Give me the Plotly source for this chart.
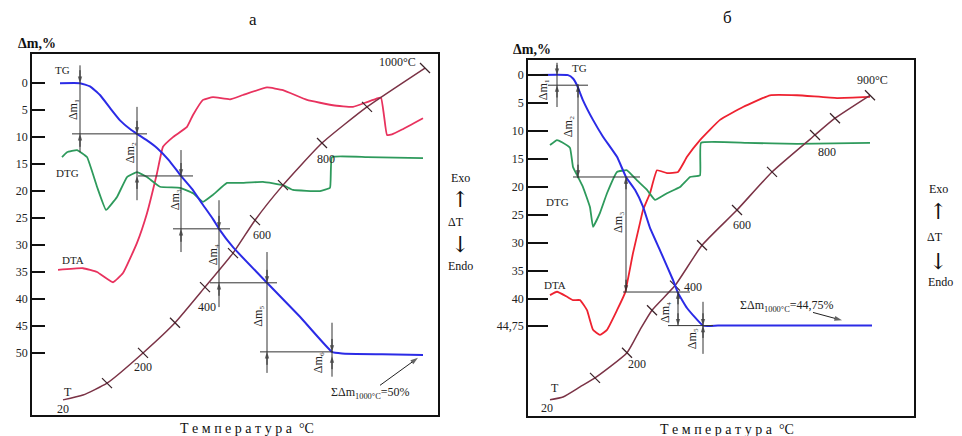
import plotly.graph_objects as go

W, H = 962, 436
FONT = "Liberation Serif"

# ---------------- Panel а (x = time, arbitrary units; y = Δm, %) ----------------
TG_a_t = [28, 48, 58, 68, 78, 88, 98, 105, 115, 125, 137, 149, 160, 170, 181, 187, 201, 235, 268, 300, 310, 350, 391]
TG_a = [0, 0, 0.6, 2.2, 4.6, 6.9, 8.5, 9.4, 10.6, 12, 14.3, 17.2, 19.6, 22.3, 25.2, 27, 30.4, 37, 43.3, 49.8, 50.1, 50.25, 50.4]

DTA_a_t = [26, 51, 65, 81, 91, 105, 115, 125, 131, 141, 155, 161, 171, 181, 198, 211, 235, 251, 275, 301, 321, 335, 344, 349, 352, 355, 360, 370, 391]
DTA_a = [34.6, 34.3, 35, 36.9, 35.2, 29.6, 24.1, 16.7, 11.8, 10, 8.1, 5.9, 3.1, 2.6, 3, 2.2, 0.8, 1.3, 3.1, 4.1, 4.4, 3.5, 2.9, 2.7, 6.0, 9.6, 9.5, 8.6, 6.5]

DTG_a_t = [30, 35, 45, 55, 65, 74, 85, 95, 105, 115, 128, 148, 161, 171, 181, 195, 208, 231, 251, 261, 288, 298, 300, 335, 391]
DTG_a = [13.7, 12.8, 12.4, 13.7, 19.2, 23.5, 21.1, 17.4, 16.5, 17.4, 19.2, 19.4, 20.4, 22, 20.7, 18.5, 18.5, 18.3, 18.9, 19.8, 20, 19.4, 13.7, 13.7, 13.9]

T_a_t = [31, 51, 75, 111, 143, 173, 201, 223, 251, 290, 335, 393]
T_a = [58.7, 57.8, 55.6, 50, 44.4, 37.8, 31.5, 25.4, 18.9, 11.1, 4.4, -2.8]
T_a_tick_t = [75, 111, 143, 173, 201, 223, 251, 290, 335, 393]
T_a_tick = [55.6, 50, 44.4, 37.8, 31.5, 25.4, 18.9, 11.1, 4.4, -2.8]

# Δm steps: (time, top level, bottom level, line top, line bottom, arrows inward?)
DM_a = [(48, 0, 9.4, -3.3, 12.8, True),
        (105, 9.4, 17.2, 4.4, 21.7, True),
        (149, 17.2, 27, 12.4, 31.3, True),
        (187, 27, 37, 21.7, 41.5, True),
        (235, 37, 49.8, 31.3, 53.7, True),
        (300, 49.8, 50.6, 44.4, 54.4, True)]
LEVELS_a = [(9.4, 40, 115), (17.2, 106, 161), (27, 141, 198), (37, 178, 245), (49.8, 228, 301)]
DM_a_lab = [(41, 5), (98, 13), (143, 21.7), (181, 31.9), (226, 43.3), (286, 51.9)]

# ---------------- Panel б ----------------
TG_b_t = [2, 40, 45, 49, 55, 65, 75, 89, 98, 107, 115, 122, 132, 145, 150, 159, 175, 190, 260, 344]
TG_b = [0, 0, 0.6, 1.8, 4.5, 8, 11, 14.6, 18.2, 20.5, 23.5, 27.3, 31.3, 36.6, 38.9, 41.6, 44.75, 44.75, 44.75, 44.75]

DTA_b_t = [22, 29, 39, 45, 52, 59, 65, 72, 79, 89, 97, 105, 112, 115, 122, 129, 139, 150, 159, 172, 192, 215, 242, 269, 309, 342]
DTA_b = [39.3, 38.7, 39.6, 40.2, 40.2, 42, 45.5, 46.4, 45.5, 42, 38.9, 31.8, 26.4, 24.1, 21.1, 17, 17.5, 17.3, 14.6, 11.6, 8, 5.7, 3.6, 3.6, 4.1, 3.9]

DTG_b_t = [22, 29, 34, 42, 45, 50, 55, 62, 65, 72, 79, 89, 99, 109, 119, 127, 139, 152, 162, 172, 173, 219, 269, 342]
DTG_b = [12.5, 11.6, 12, 13, 16.4, 18.2, 20, 23.6, 27.1, 24.6, 21.1, 17.3, 17, 18.8, 20.5, 22.3, 21.1, 20, 18.2, 17.9, 12.1, 12.1, 12.3, 12.1]

T_b_t = [22, 35, 52, 67, 99, 112, 124, 147, 174, 209, 244, 287, 307, 342]
T_b = [58, 57.5, 55.7, 54.1, 49.6, 45.5, 42, 37.6, 30.4, 24.1, 17.3, 10.7, 7.7, 3.6]
T_b_tick_t = [67, 99, 124, 147, 174, 209, 244, 287, 307, 342]
T_b_tick = [54.1, 49.6, 42, 37.6, 30.4, 24.1, 17.3, 10.7, 7.7, 3.6]

DM_b = [(29, 0, 1.8, -1.8, 5.7, True),
        (50, 1.8, 18.2, 1.6, 18.4, False),
        (98, 18.2, 38.75, 18.2, 38.75, False),
        (150, 38.75, 44.75, 38.75, 44.75, False),
        (175, 44.75, 44.75, 40.5, 49.8, True)]
LEVELS_b = [(1.8, 20, 60), (18.2, 45, 112), (38.75, 95, 162), (44.75, 140, 185)]
DM_b_lab = [(15, 2.7), (40, 9.3), (90, 26.4), (137, 42.5), (164, 47.2)]

TICKS_a = [0, 5, 10, 15, 20, 25, 30, 35, 40, 45, 50]
TICKS_b = [0, 5, 10, 15, 20, 25, 30, 35, 40, 44.75]
TICKS_b_text = ["0", "5", "10", "15", "20", "25", "30", "35", "40", "44,75"]

SUBS = ["₁", "₂", "₃", "₄", "₅", "₆"]

BLUE = "#2b2be6"
RED_A = "#e8325e"
RED_B = "#ee2230"
GREEN = "#2e9a5c"
MAROON = "#7b3346"

fig = go.Figure()

def add_panel(xa, ya, tg_t, tg, dta_t, dta, dtg_t, dtg, t_t, t_y, tk_t, tk_y, red):
    fig.add_trace(go.Scatter(x=dta_t, y=dta, mode="lines", line=dict(color=red, width=1.8, shape="spline", smoothing=0.35),
                             xaxis=xa, yaxis=ya, hoverinfo="skip"))
    fig.add_trace(go.Scatter(x=dtg_t, y=dtg, mode="lines", line=dict(color=GREEN, width=1.8, shape="spline", smoothing=0.3),
                             xaxis=xa, yaxis=ya, hoverinfo="skip"))
    fig.add_trace(go.Scatter(x=t_t, y=t_y, mode="lines", line=dict(color=MAROON, width=1.5, shape="spline", smoothing=0.5),
                             xaxis=xa, yaxis=ya, hoverinfo="skip"))
    fig.add_trace(go.Scatter(x=tk_t, y=tk_y, mode="markers",
                             marker=dict(symbol="line-nw", size=10, line=dict(color="#3a2228", width=1.2)),
                             xaxis=xa, yaxis=ya, hoverinfo="skip"))
    fig.add_trace(go.Scatter(x=tg_t, y=tg, mode="lines", line=dict(color=BLUE, width=2, shape="spline", smoothing=0.35),
                             xaxis=xa, yaxis=ya, hoverinfo="skip"))

add_panel("x", "y", TG_a_t, TG_a, DTA_a_t, DTA_a, DTG_a_t, DTG_a, T_a_t, T_a, T_a_tick_t, T_a_tick, RED_A)
add_panel("x2", "y2", TG_b_t, TG_b, DTA_b_t, DTA_b, DTG_b_t, DTG_b, T_b_t, T_b, T_b_tick_t, T_b_tick, RED_B)

shapes = []
ann = []

def arrow(xa, ya, x0, y0, x1, y1, size=8, width=1):
    # line from tail (x0, y0) to tip (x1, y1) with an arrowhead at the tip
    fig.add_trace(go.Scatter(x=[x0, x1], y=[y0, y1], mode="lines+markers", xaxis=xa, yaxis=ya,
                             line=dict(color="#222", width=width),
                             marker=dict(symbol="arrow", angleref="previous", size=[0, size], color="#222",
                                         line=dict(width=0)),
                             hoverinfo="skip"))

def dims(xa, ya, dm, levels, labels, ln):
    for (y, t0, t1) in levels:
        shapes.append(dict(type="line", xref=xa, yref=ya, x0=t0, x1=t1, y0=y, y1=y, line=dict(color="#333", width=1)))
    for i, (t, yt, yb, lt, lb, inward) in enumerate(dm):
        shapes.append(dict(type="line", xref=xa, yref=ya, x0=t, x1=t, y0=lt, y1=lb, line=dict(color="#333", width=1)))
        d = ln if inward else -ln
        for tip, tail in ((yt, yt - d), (yb, yb + d)):
            arrow(xa, ya, t, tail, t, tip, size=7)
        lx, ly = labels[i]
        ann.append(dict(x=lx, y=ly, xref=xa, yref=ya, text="Δm" + SUBS[i], showarrow=False,
                        textangle=-90, font=dict(family=FONT, size=12, color="#222")))

dims("x", "y", DM_a, LEVELS_a, DM_a_lab, 2.4)
dims("x2", "y2", DM_b, LEVELS_b, DM_b_lab, 2.2)

def txt(xr, yr, x, y, s, size=11):
    ann.append(dict(x=x, y=y, xref=xr, yref=yr, text=s, showarrow=False,
                    font=dict(family=FONT, size=size, color="#222")))

# panel а labels
txt("x", "y", 30, -2.4, "TG")
txt("x", "y", 35, 16.7, "DTG")
txt("x", "y", 41, 32.8, "DTA")
txt("x", "y", 36, 57.2, "T", 12)
txt("x", "y", 31, 60.3, "20", 12)
txt("x", "y", 111, 52.6, "200", 12)
txt("x", "y", 175, 41.5, "400", 12)
txt("x", "y", 230, 28.1, "600", 12)
txt("x", "y", 294, 14.1, "800", 12)
txt("x", "y", 365, -3.9, "1000°C", 12)
txt("x", "y", 338, 57.4, "ΣΔm<sub>1000°C</sub>=50%", 12)
arrow("x", "y", 348, 56.0, 386, 50.9, size=8)

# panel б labels
txt("x2", "y2", 51, -1.25, "TG")
txt("x2", "y2", 29, 22.7, "DTG")
txt("x2", "y2", 27, 37.5, "DTA")
txt("x2", "y2", 27, 55.9, "T", 12)
txt("x2", "y2", 19, 59.4, "20", 12)
txt("x2", "y2", 109, 51.6, "200", 12)
txt("x2", "y2", 165, 37.9, "400", 12)
txt("x2", "y2", 214, 26.8, "600", 12)
txt("x2", "y2", 299, 13.75, "800", 12)
txt("x2", "y2", 344, 0.9, "900°C", 12)
txt("x2", "y2", 259, 41.2, "ΣΔm<sub>1000°C</sub>=44,75%", 12)
arrow("x2", "y2", 285, 42.4, 314, 43.8, size=8)

def ptxt(px, py, s, size=12, family=FONT):
    ann.append(dict(x=px / W, y=1 - py / H, xref="paper", yref="paper", text=s, showarrow=False,
                    xanchor="center", yanchor="middle", font=dict(family=family, size=size, color="#111")))

ptxt(253, 20, "а", 17)
ptxt(727, 18, "б", 17)
ptxt(37, 43, "<b>Δm,%</b>", 14)
ptxt(532, 50, "<b>Δm,%</b>", 14)
ptxt(247, 428, "Т е м п е р а т у р а  °C", 14)
ptxt(727, 429, "Т е м п е р а т у р а  °C", 14)
ptxt(460, 178, "Exo", 12)
ptxt(460, 199, "↑", 22, "DejaVu Serif")
ptxt(456, 222, "ΔT", 12)
ptxt(460, 244, "↓", 22, "DejaVu Serif")
ptxt(460, 266, "Endo", 12)
ptxt(938, 189, "Exo", 12)
ptxt(938, 211, "↑", 22, "DejaVu Serif")
ptxt(935, 237, "ΔT", 12)
ptxt(938, 261, "↓", 22, "DejaVu Serif")
ptxt(940, 282, "Endo", 12)

xax = dict(showgrid=False, zeroline=False, showticklabels=False, ticks="", showline=True, mirror=True,
           linecolor="#111", linewidth=1.5)
yax = dict(showgrid=False, zeroline=False, ticks="inside", tickcolor="#111", showline=True, mirror=True,
           linecolor="#111", linewidth=1.5, tickfont=dict(family=FONT, size=12, color="#222"))

fig.update_layout(
    width=W, height=H, margin=dict(l=0, r=0, t=0, b=0), showlegend=False,
    paper_bgcolor="white", plot_bgcolor="white",
    xaxis=dict(xax, domain=[32 / W, 438 / W], range=[0, 406]),
    yaxis=dict(yax, domain=[1 - 415 / H, 1 - 54 / H], range=[61.5, -5.4], tickvals=TICKS_a,
               ticklen=13, tickwidth=1.5, anchor="x"),
    xaxis2=dict(xax, domain=[528 / W, 914 / W], range=[0, 386], anchor="y2"),
    yaxis2=dict(yax, domain=[1 - 416 / H, 1 - 60 / H], range=[60.9, -2.7], tickvals=TICKS_b,
                ticktext=TICKS_b_text, ticklen=20, tickwidth=2.2, anchor="x2"),
    shapes=shapes, annotations=ann,
)

fig.write_html("out.html")
